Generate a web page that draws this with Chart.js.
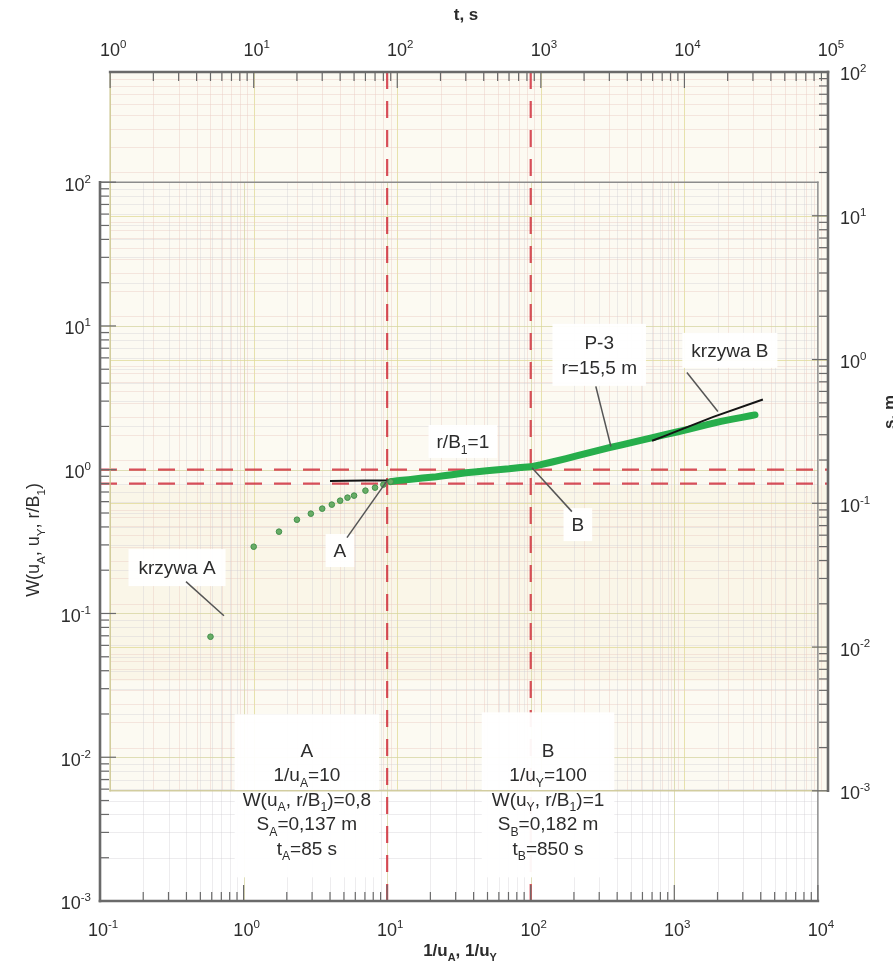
<!DOCTYPE html>
<html lang="pl">
<head>
<meta charset="utf-8">
<title>P-3 – dopasowanie krzywych typowych</title>
<script src="https://cdn.jsdelivr.net/npm/chart.js@4.4.1/dist/chart.umd.min.js"></script>
<style>
  html, body { margin: 0; padding: 0; background: #ffffff; }
  canvas { display: block; }
</style>
</head>
<body>
<canvas id="chart" width="893" height="964"></canvas>
<script>
// Pumping test P-3 (r = 15,5 m): drawdown s(t) laid over the type curves W(1/u, r/B1)

// early manual readings, t [s] and s [m]
const earlyTime = [5, 10, 15, 20, 25, 30, 35, 40, 45, 50, 60, 70, 80, 90];
const earlyDrawdown = [0.0118, 0.0499, 0.0635, 0.0769, 0.0847, 0.0918, 0.0979, 0.1043, 0.1095, 0.1131, 0.1225, 0.1285, 0.1349, 0.1415];

// logger readings, t [s] and s [m]
const loggerTime = [90, 100, 120, 150, 180, 210, 240, 300, 360, 420, 480, 600, 720, 850, 1000, 1200, 1500, 1800, 2400, 3000, 3600, 4800, 6000, 7200, 9000, 10800, 14400, 18000, 21600, 25200, 28800, 31000];
const loggerDrawdown = [0.1415, 0.1438, 0.1461, 0.1497, 0.1521, 0.1553, 0.1581, 0.1632, 0.1659, 0.1683, 0.1705, 0.1738, 0.1774, 0.1794, 0.1856, 0.1938, 0.2046, 0.2144, 0.2304, 0.2437, 0.2541, 0.2719, 0.2862, 0.2989, 0.3146, 0.3280, 0.3520, 0.3716, 0.3850, 0.3962, 0.4065, 0.4118];

// type curve A (r/B1 = 1) and type curve B, in 1/u and W
const curveAInvU = [4.0, 7.0, 12.0];
const curveAW = [0.835, 0.840, 0.842];
const curveBInvU = [700, 834, 1870, 4140];
const curveBW = [1.59, 1.70, 2.33, 3.08];

// match points
const matchName = ['A', 'B'];
const matchUSub = ['A', 'Y'];
const matchInvU = [10, 100];
const matchW = [0.8, 1];
const matchS = [0.137, 0.182];
const matchT = [85, 850];

// extents of the type-curve sheet and of the data sheet
const invUFrame = [0.1, 1e4];
const wFrame = [1e-3, 1e2];
const tFrame = [1, 1e5];
const sFrame = [1e-3, 1e2];

// sheet shift given by match point A
const timeFactor = matchT[0] / matchInvU[0];
const drawdownFactor = matchS[0] / matchW[0];

const invUMin = invUFrame[0];
const invUMax = tFrame[1] / timeFactor;
const wMin = wFrame[0];
const wMax = sFrame[1] / drawdownFactor;

const FONT = '"Liberation Sans", Arial, Helvetica, sans-serif';
const TEXT = '#2c2c2c';
const fmt = v => String(v).replace('.', ',');
const pts = (xs, ys) => xs.map((x, i) => ({ x, y: ys[i] }));

function isDecade(v) {
  const e = Math.log10(v);
  return Math.abs(e - Math.round(e)) < 1e-6;
}
function logTicks(lo, hi) {
  const out = [];
  for (let e = Math.floor(Math.log10(lo)) - 1; e <= Math.ceil(Math.log10(hi)); e++) {
    for (let m = 1; m <= 9; m++) {
      const v = Number((m * Math.pow(10, e)).toPrecision(6));
      if (v >= lo * (1 - 1e-9) && v <= hi * (1 + 1e-9)) out.push({ value: v, major: m === 1 });
    }
  }
  return out;
}

// text with sub/superscripts: parts = [[text, mode], ...]
function partFont(size, mode, bold) {
  return (bold ? 'bold ' : '') + (mode ? size * 0.64 : size).toFixed(1) + 'px ' + FONT;
}
function richWidth(ctx, parts, size, bold) {
  let w = 0;
  for (const [t, mode] of parts) { ctx.font = partFont(size, mode, bold); w += ctx.measureText(t).width; }
  return w;
}
function drawRich(ctx, parts, x, y, size, bold, align) {
  const w = richWidth(ctx, parts, size, bold);
  let cx = align === 'center' ? x - w / 2 : align === 'right' ? x - w : x;
  ctx.textBaseline = 'alphabetic';
  ctx.textAlign = 'left';
  const base = y + size * 0.36;
  for (const [t, mode] of parts) {
    ctx.font = partFont(size, mode, bold);
    const dy = mode === 'sub' ? size * 0.3 : mode === 'sup' ? -size * 0.45 : 0;
    ctx.fillText(t, cx, base + dy);
    cx += ctx.measureText(t).width;
  }
}

// labels on the sheet, anchored at (1/u, W) of their first line
const blockLines = i => [
  [[matchName[i], '']],
  [['1/u', ''], [matchUSub[i], 'sub'], ['=' + fmt(matchInvU[i]), '']],
  [['W(u', ''], [matchUSub[i], 'sub'], [', r/B', ''], ['1', 'sub'], [')=' + fmt(matchW[i]), '']],
  [['S', ''], [matchName[i], 'sub'], ['=' + fmt(matchS[i]) + ' m', '']],
  [['t', ''], [matchName[i], 'sub'], ['=' + fmt(matchT[i]) + ' s', '']]
];
const notes = [
  { at: [0.344, 0.2085], lines: [[['krzywa A', '']]], gap: 24, pad: [10, 9, 9] },
  { at: [4.69, 0.274], lines: [[['A', '']]], gap: 24, pad: [8, 7, 7] },
  { at: [213, 0.415], lines: [[['B', '']]], gap: 24, pad: [8, 7, 7] },
  { at: [33.7, 1.572], lines: [[['r/B', ''], ['1', 'sub'], ['=1', '']]], gap: 24, pad: [8, 7, 7] },
  { at: [300, 7.69], lines: [[['P-3', '']], [['r=15,5 m', '']]], gap: 25, pad: [9, 9, 9] },
  { at: [2438, 6.76], lines: [[['krzywa B', '']]], gap: 24, pad: [9, 8, 8] },
  { at: [2.76, 0.01126], lines: blockLines(0), gap: 24.5, pad: [8, 26, 20] },
  { at: [132, 0.01126], lines: blockLines(1), gap: 24.5, pad: [10, 28, 20] }
];
const leaders = [
  [[0.397, 0.1665], [0.730, 0.0965]],
  [[5.25, 0.337], [10, 0.84]],
  [[193.6, 0.511], [102, 1.03]],
  [[284, 3.80], [362, 1.45]],
  [[1224, 4.75], [2012, 2.54]]
];
const NOTE_SIZE = 19;

function noteBox(ctx, sx, sy, n) {
  const cx = sx.getPixelForValue(n.at[0]);
  const cy = sy.getPixelForValue(n.at[1]);
  let w = 0;
  for (const l of n.lines) w = Math.max(w, richWidth(ctx, l, NOTE_SIZE, false));
  return { cx, cy, w, h: (n.lines.length - 1) * n.gap + NOTE_SIZE };
}

function line(ctx, x1, y1, x2, y2) {
  ctx.beginPath(); ctx.moveTo(x1, y1); ctx.lineTo(x2, y2); ctx.stroke();
}

function frames(chart) {
  const s = chart.scales;
  return {
    main: {
      l: s.x.getPixelForValue(invUFrame[0]), r: s.x.getPixelForValue(invUFrame[1]),
      t: s.y.getPixelForValue(wFrame[1]), b: s.y.getPixelForValue(wFrame[0])
    },
    over: {
      l: s.xt.getPixelForValue(tFrame[0]), r: s.xt.getPixelForValue(tFrame[1]),
      t: s.ys.getPixelForValue(sFrame[1]), b: s.ys.getPixelForValue(sFrame[0])
    }
  };
}

function drawGrid(ctx, hs, vs, box, minor, major) {
  ctx.save();
  ctx.beginPath(); ctx.rect(box.l, box.t, box.r - box.l, box.b - box.t); ctx.clip();
  ctx.lineWidth = 1;
  for (const tk of hs.ticks) {
    const p = Math.round(hs.getPixelForValue(tk.value)) + 0.5;
    ctx.strokeStyle = isDecade(tk.value) ? major : minor;
    line(ctx, p, box.t, p, box.b);
  }
  for (const tk of vs.ticks) {
    const p = Math.round(vs.getPixelForValue(tk.value)) + 0.5;
    ctx.strokeStyle = isDecade(tk.value) ? major : minor;
    line(ctx, box.l, p, box.r, p);
  }
  ctx.restore();
}

const sheetPlugin = {
  id: 'sheet',
  beforeDraw(chart) {
    const ctx = chart.ctx;
    ctx.save();
    ctx.fillStyle = '#ffffff';
    ctx.fillRect(0, 0, chart.width, chart.height);
    ctx.restore();
  },
  beforeDatasetsDraw(chart) {
    const ctx = chart.ctx;
    const s = chart.scales;
    const f = frames(chart);
    ctx.save();
    // data sheet tint, a little warmer in its lower middle part
    ctx.fillStyle = 'rgba(251,248,238,0.75)';
    ctx.fillRect(f.over.l, f.over.t, f.over.r - f.over.l, f.over.b - f.over.t);
    const bandTop = s.y.getPixelForValue(0.78), bandBottom = s.y.getPixelForValue(0.034);
    ctx.fillStyle = 'rgba(246,238,214,0.35)';
    ctx.fillRect(f.over.l, bandTop, f.over.r - f.over.l, bandBottom - bandTop);
    drawGrid(ctx, s.xt, s.ys, f.over, 'rgba(236,205,195,0.45)', 'rgba(224,218,150,0.75)');
    drawGrid(ctx, s.x, s.y, f.main, 'rgba(208,204,210,0.38)', 'rgba(214,212,160,0.75)');
    ctx.restore();
  },
  afterDatasetsDraw(chart) {
    const ctx = chart.ctx;
    const s = chart.scales;
    const f = frames(chart);
    const m = f.main, o = f.over;
    ctx.save();

    // white label patches
    ctx.fillStyle = 'rgba(255,255,255,0.95)';
    for (const n of notes) {
      const b = noteBox(ctx, s.x, s.y, n);
      const [px, pt, pb] = n.pad;
      const top = b.cy - NOTE_SIZE / 2 - pt;
      ctx.fillRect(b.cx - b.w / 2 - px, top, b.w + 2 * px, b.h + pt + pb);
    }

    // sheet borders
    ctx.lineCap = 'square';
    ctx.strokeStyle = 'rgba(205,200,150,0.9)'; ctx.lineWidth = 1.5;
    line(ctx, o.l, o.t, o.l, o.b); line(ctx, o.l, o.b, o.r, o.b);
    ctx.strokeStyle = '#8c8c8c'; ctx.lineWidth = 1.5;
    line(ctx, m.l, m.t, m.r, m.t); line(ctx, m.r, m.t, m.r, m.b);
    ctx.strokeStyle = '#6a6a6a'; ctx.lineWidth = 2.6;
    line(ctx, m.l, m.t, m.l, m.b); line(ctx, m.l, m.b, m.r, m.b);
    line(ctx, o.l, o.t, o.r, o.t); line(ctx, o.r, o.t, o.r, o.b);

    // inward tick marks
    ctx.strokeStyle = '#6a6a6a'; ctx.lineWidth = 1.2; ctx.lineCap = 'butt';
    const len = v => isDecade(v) ? 16 : 9;
    for (const tk of s.x.ticks) { const p = s.x.getPixelForValue(tk.value); line(ctx, p, m.b, p, m.b - len(tk.value)); }
    for (const tk of s.y.ticks) { const p = s.y.getPixelForValue(tk.value); line(ctx, m.l, p, m.l + len(tk.value), p); }
    for (const tk of s.xt.ticks) { const p = s.xt.getPixelForValue(tk.value); line(ctx, p, o.t, p, o.t + len(tk.value)); }
    for (const tk of s.ys.ticks) { const p = s.ys.getPixelForValue(tk.value); line(ctx, o.r, p, o.r - len(tk.value), p); }

    // tick labels (powers of ten)
    ctx.fillStyle = TEXT;
    const lab = v => [['10', ''], [String(Math.round(Math.log10(v))), 'sup']];
    for (const tk of s.x.ticks) if (isDecade(tk.value)) drawRich(ctx, lab(tk.value), s.x.getPixelForValue(tk.value) + 3, m.b + 29, 18, false, 'center');
    for (const tk of s.y.ticks) if (isDecade(tk.value)) drawRich(ctx, lab(tk.value), m.l - 9, s.y.getPixelForValue(tk.value) + 2, 18, false, 'right');
    for (const tk of s.xt.ticks) if (isDecade(tk.value)) drawRich(ctx, lab(tk.value), s.xt.getPixelForValue(tk.value) + 3, o.t - 22, 18, false, 'center');
    for (const tk of s.ys.ticks) if (isDecade(tk.value)) drawRich(ctx, lab(tk.value), o.r + 12, s.ys.getPixelForValue(tk.value) + 2, 18, false, 'left');

    // axis titles
    drawRich(ctx, [['t, s', '']], 466, 14, 17, true, 'center');
    drawRich(ctx, [['1/u', ''], ['A', 'sub'], [', 1/u', ''], ['Y', 'sub']], 460, 950, 17, true, 'center');
    ctx.save();
    ctx.translate(33, 540); ctx.rotate(-Math.PI / 2);
    drawRich(ctx, [['W(u', ''], ['A', 'sub'], [', u', ''], ['Y', 'sub'], [', r/B', ''], ['1', 'sub'], [')', '']], 0, 0, 18, false, 'center');
    ctx.restore();
    ctx.save();
    ctx.translate(889, 412); ctx.rotate(-Math.PI / 2);
    drawRich(ctx, [['s, m', '']], 0, 0, 17, true, 'center');
    ctx.restore();

    // leader lines
    ctx.strokeStyle = '#555555'; ctx.lineWidth = 1.5;
    for (const [a, b] of leaders) {
      line(ctx, s.x.getPixelForValue(a[0]), s.y.getPixelForValue(a[1]), s.x.getPixelForValue(b[0]), s.y.getPixelForValue(b[1]));
    }

    // labels
    ctx.fillStyle = TEXT;
    for (const n of notes) {
      const b = noteBox(ctx, s.x, s.y, n);
      n.lines.forEach((l, i) => drawRich(ctx, l, b.cx, b.cy + i * n.gap, NOTE_SIZE, false, 'center'));
    }
    ctx.restore();
  }
};

const redLine = {
  showLine: true, pointRadius: 0, borderColor: 'rgba(208,48,62,0.85)', borderWidth: 2.2,
  borderDash: [17, 12], order: 5, xAxisID: 'x', yAxisID: 'y'
};

const axisBase = {
  type: 'logarithmic',
  grid: { display: false },
  border: { display: false },
  ticks: { display: false }
};

new Chart(document.getElementById('chart'), {
  type: 'scatter',
  data: {
    datasets: [
      ...matchInvU.map(v => Object.assign({ data: [{ x: v, y: wMin }, { x: v, y: wMax }] }, redLine)),
      ...matchW.map(v => Object.assign({ data: [{ x: invUMin, y: v }, { x: invUMax, y: v }] }, redLine)),
      {
        label: 'krzywa A', data: pts(curveAInvU, curveAW), showLine: true, pointRadius: 0,
        borderColor: '#141414', borderWidth: 2, order: 3, xAxisID: 'x', yAxisID: 'y'
      },
      {
        label: 'krzywa B', data: pts(curveBInvU, curveBW), showLine: true, pointRadius: 0,
        borderColor: '#141414', borderWidth: 2, order: 1, xAxisID: 'x', yAxisID: 'y'
      },
      {
        label: 'P-3', data: pts(earlyTime, earlyDrawdown), showLine: false, pointRadius: 2.8,
        backgroundColor: '#68ad66', borderColor: '#44904c', borderWidth: 1,
        order: 2, xAxisID: 'xt', yAxisID: 'ys'
      },
      {
        label: 'P-3 logger', data: pts(loggerTime, loggerDrawdown), showLine: true, pointRadius: 0,
        borderColor: '#27ae4c', borderWidth: 7, borderCapStyle: 'round', borderJoinStyle: 'round',
        order: 2, xAxisID: 'xt', yAxisID: 'ys'
      }
    ]
  },
  options: {
    responsive: false,
    animation: false,
    devicePixelRatio: 1,
    layout: { padding: 0 },
    plugins: { legend: { display: false }, tooltip: { enabled: false } },
    scales: {
      x: Object.assign({}, axisBase, {
        axis: 'x', position: 'bottom', min: invUMin, max: invUMax,
        afterBuildTicks: sc => { sc.ticks = logTicks(invUFrame[0], invUFrame[1]); },
        afterFit: sc => { sc.height = 63; }
      }),
      y: Object.assign({}, axisBase, {
        axis: 'y', position: 'left', min: wMin, max: wMax,
        afterBuildTicks: sc => { sc.ticks = logTicks(wFrame[0], wFrame[1]); },
        afterFit: sc => { sc.width = 100; }
      }),
      xt: Object.assign({}, axisBase, {
        axis: 'x', position: 'top', min: invUMin * timeFactor, max: tFrame[1],
        afterBuildTicks: sc => { sc.ticks = logTicks(tFrame[0], tFrame[1]); },
        afterFit: sc => { sc.height = 72; }
      }),
      ys: Object.assign({}, axisBase, {
        axis: 'y', position: 'right', min: wMin * drawdownFactor, max: sFrame[1],
        afterBuildTicks: sc => { sc.ticks = logTicks(sFrame[0], sFrame[1]); },
        afterFit: sc => { sc.width = 65; }
      })
    }
  },
  plugins: [sheetPlugin]
});
</script>
</body>
</html>
